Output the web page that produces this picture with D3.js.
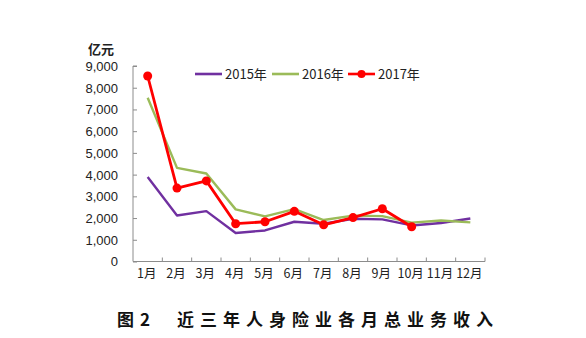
<!DOCTYPE html>
<html>
<head>
<meta charset="utf-8">
<script src="https://cdn.jsdelivr.net/npm/d3@7"></script>
<style>
  html, body { margin: 0; padding: 0; background: #fff; }
  svg { display: block; }
</style>
</head>
<body>
<svg id="chart" width="586" height="338"></svg>
<script>
// Monthly total premium income of the life insurance industry (亿元)
const months = ["1月", "2月", "3月", "4月", "5月", "6月", "7月", "8月", "9月", "10月", "11月", "12月"];
const income2015 = [3890, 2120, 2320, 1310, 1430, 1830, 1740, 1970, 1940, 1660, 1770, 1980];
const income2016 = [7540, 4310, 4050, 2400, 2080, 2410, 1910, 2110, 2090, 1790, 1890, 1800];
const income2017 = [8540, 3380, 3710, 1740, 1830, 2310, 1690, 2020, 2430, 1600];
const yTicks = [0, 1000, 2000, 3000, 4000, 5000, 6000, 7000, 8000, 9000];
const seriesNames = ["2015年", "2016年", "2017年"];
const seriesColors = ["#7030A0", "#9BBB59", "#FF0000"];
const unitLabel = "亿元";
const figNo = "图 2";
const caption = "近三年人身险业各月总业务收入";

const svg = d3.select("#chart");
const plotL = 133, plotR = 485, plotT = 66, plotB = 261.5;
const latin = "'Liberation Sans', Arial, sans-serif";
const cjk = "'Noto Sans CJK SC', 'Liberation Sans', sans-serif";

const x = d3.scaleBand().domain(months).range([plotL, plotR]).padding(0);
const y = d3.scaleLinear().domain([0, 9000]).range([plotB, plotT]);
const axisColor = "#8c8c8c";

// Y axis: inward ticks, labels to the left
const yAxis = svg.append("g").attr("transform", `translate(${plotL},0)`)
  .call(d3.axisRight(y).tickValues(yTicks).tickSize(4).tickFormat(d3.format(",")));
yAxis.select(".domain").attr("stroke", axisColor).attr("d", `M4,${plotT}H0V${plotB}`);
yAxis.selectAll(".tick line").attr("stroke", axisColor);
yAxis.selectAll(".tick text")
  .attr("x", -15).attr("text-anchor", "end").attr("dy", "0.34em")
  .attr("fill", "#222").style("font-family", latin).style("font-size", "13px");

// X axis: tick marks on category boundaries, pointing up
const xAxis = svg.append("g").attr("transform", `translate(0,${plotB})`);
xAxis.append("line").attr("x1", plotL).attr("x2", plotR).attr("y1", 0).attr("y2", 0)
  .attr("stroke", axisColor);
const bounds = months.map(m => x(m) + x.bandwidth());
xAxis.selectAll("line.bt").data(bounds).join("line").attr("class", "bt")
  .attr("x1", d => d).attr("x2", d => d).attr("y1", 0).attr("y2", -4)
  .attr("stroke", axisColor);
xAxis.selectAll("text").data(months).join("text")
  .attr("x", d => x(d) + x.bandwidth() / 2 - 1)
  .attr("y", 16)
  .attr("text-anchor", "middle")
  .attr("fill", "#222")
  .style("font-family", cjk).style("font-size", "12.5px")
  .text(d => d);

// Unit label
svg.append("text").attr("x", 88).attr("y", 54)
  .style("font-family", cjk).style("font-size", "13px").style("font-weight", "700")
  .attr("fill", "#222").text(unitLabel);

// Series lines
const line = d3.line().x((d, i) => x(months[i]) + x.bandwidth() / 2).y(d => y(d));
const allSeries = [income2015, income2016, income2017];
allSeries.forEach((vals, k) => {
  svg.append("path").datum(vals)
    .attr("fill", "none").attr("stroke", seriesColors[k])
    .attr("stroke-width", k === 2 ? 2.8 : 2.4)
    .attr("stroke-linejoin", "round")
    .attr("d", line);
});
svg.append("g").selectAll("circle").data(income2017).join("circle")
  .attr("cx", (d, i) => x(months[i]) + x.bandwidth() / 2)
  .attr("cy", d => y(d))
  .attr("r", 4.5)
  .attr("fill", seriesColors[2]);

// Legend
const legendX = [195, 272, 348];
const legend = svg.append("g");
seriesNames.forEach((name, k) => {
  const g = legend.append("g").attr("transform", `translate(${legendX[k]},74)`);
  g.append("line").attr("x1", 0).attr("x2", 27).attr("y1", 0).attr("y2", 0)
    .attr("stroke", seriesColors[k]).attr("stroke-width", 2.6);
  if (k === 2) g.append("circle").attr("cx", 13.5).attr("cy", 0).attr("r", 4).attr("fill", seriesColors[k]);
  g.append("text").attr("x", 30).attr("y", 0).attr("dy", "0.36em")
    .style("font-family", cjk).style("font-size", "13px").attr("fill", "#222")
    .text(name);
});

// Figure caption
svg.append("text").attr("x", 117).attr("y", 326)
  .style("font-family", cjk).style("font-size", "17px").style("font-weight", "700")
  .attr("fill", "#111").text(figNo)
  .attr("textLength", 33).attr("lengthAdjust", "spacing");
svg.append("text").attr("x", 177).attr("y", 326)
  .style("font-family", cjk).style("font-size", "17px").style("font-weight", "700")
  .attr("fill", "#111").text(caption)
  .attr("textLength", 316).attr("lengthAdjust", "spacing");
</script>
</body>
</html>
